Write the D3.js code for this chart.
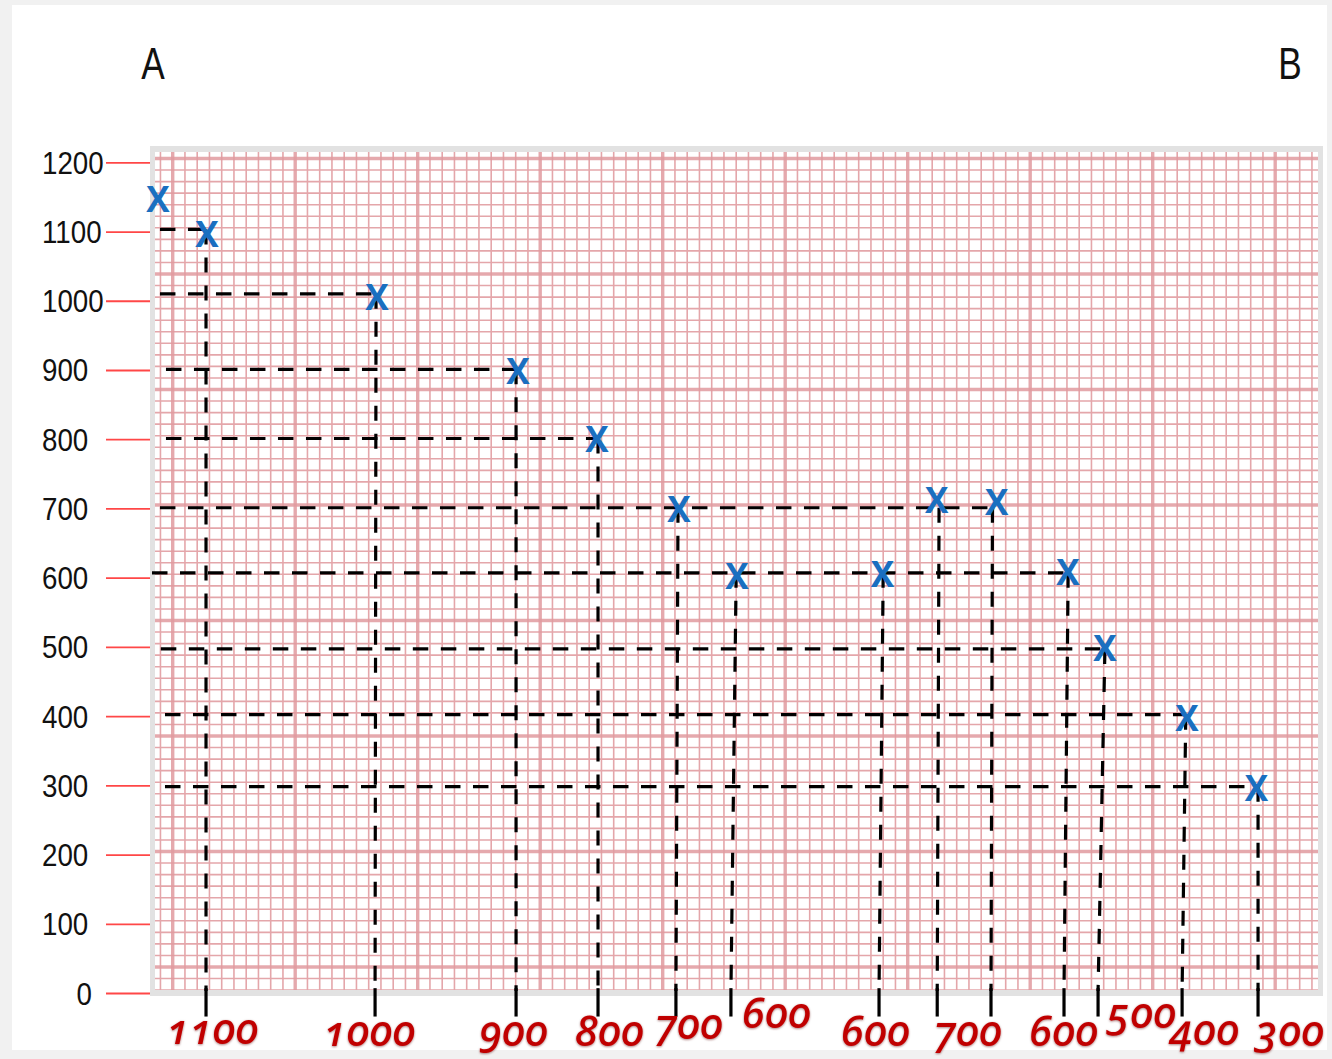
<!DOCTYPE html>
<html>
<head>
<meta charset="utf-8">
<script src="https://cdn.jsdelivr.net/npm/d3@7"></script>
<style>
  html, body { margin: 0; padding: 0; background: #f1f1f1; }
  svg { display: block; }
</style>
</head>
<body>
<svg id="chart" width="1332" height="1059"></svg>
<script>
// ---------------- data ----------------
const yTicks = [0, 100, 200, 300, 400, 500, 600, 700, 800, 900, 1000, 1100, 1200];
const cornerLabels = ["A", "B"];
const cornerX = [-1.6, 91.2];           // grid units
const cornerValue = [1320, 1320];        // value units (baseline)

// horizontal dashed guide levels
const levelValue  = [1103, 1010, 901, 801, 701, 607, 497, 402, 298];
const levelStartX = [-1.04, -1.04, -0.55, -0.55, -1.04, -1.69, -0.97, -0.63, -0.63];

// blue X markers
const markerX     = [-1.20, 2.80, 16.68, 28.19, 34.64, 41.33, 46.06, 57.94, 62.37, 67.27, 73.09, 76.11, 82.80, 88.47];
const markerValue = [1146, 1096, 1004, 898, 800, 698, 601, 604, 712, 708, 607, 498, 397, 295];
const markerLevel = [-1, 0, 1, 2, 3, 4, 5, 5, 4, 4, 5, 6, 7, 8];
const stemTopX    = [null, 2.72, 16.60, 28.03, 34.72, 41.25, 46.00, 58.00, 62.56, 66.92, 73.10, 76.10, 82.70, 88.60];
const stemBottomX = [null, 2.72, 16.52, 28.03, 34.72, 41.08, 45.57, 57.66, 62.41, 66.80, 72.76, 75.54, 82.40, 88.60];

// red handwritten-style labels below the chart
const labelText  = ["1100", "1000", "900", "800", "700", "600", "600", "700", "600", "500", "400", "300"];
const labelX     = [3.29, 16.11, 27.87, 35.70, 42.15, 49.33, 57.42, 64.93, 72.78, 79.14, 84.28, 91.22];
const labelValue = [-74, -77, -77, -77, -67, -50, -77, -76, -77, -50, -75, -77];

// ---------------- chart ----------------
const svg = d3.select("#chart");

// scales: x in graph-paper units (one unit = one small square), y in values
const x = d3.scaleLinear().domain([0, 90]).range([172.7, 1275.2]);
const y = d3.scaleLinear().domain([0, 1200]).range([993, 162.3]);
const gy = d3.scaleLinear().domain([0, 70]).range([158.5, 967]); // paper rows

const paper = { left: 155, right: 1318, top: 152, bottom: 990 };

// white card
svg.append("rect").attr("x", 12).attr("y", 5).attr("width", 1315).attr("height", 1045).attr("fill", "#ffffff");

// paper frame
svg.append("rect")
  .attr("x", paper.left - 5).attr("y", paper.top - 6)
  .attr("width", paper.right - paper.left + 10).attr("height", paper.bottom - paper.top + 12)
  .attr("fill", "#e2e2e2");
svg.append("rect")
  .attr("x", paper.left).attr("y", paper.top)
  .attr("width", paper.right - paper.left).attr("height", paper.bottom - paper.top)
  .attr("fill", "#ffffff");

const defs = svg.append("defs");
defs.append("clipPath").attr("id", "paperClip")
  .append("rect").attr("x", paper.left).attr("y", paper.top)
  .attr("width", paper.right - paper.left).attr("height", paper.bottom - paper.top);
const shadow = defs.append("filter").attr("id", "glow").attr("x", "-20%").attr("y", "-30%").attr("width", "140%").attr("height", "160%");
shadow.append("feDropShadow").attr("dx", 0).attr("dy", 0.8).attr("stdDeviation", 1.3)
  .attr("flood-color", "#5a0000").attr("flood-opacity", 0.55);

const grid = svg.append("g").attr("clip-path", "url(#paperClip)");
const colIdx = d3.range(-1, 94);
const rowIdx = d3.range(0, 73);

// minor lines
grid.selectAll("line.vmin").data(colIdx.filter(i => i % 10 !== 0)).join("line")
  .attr("x1", d => x(d)).attr("x2", d => x(d))
  .attr("y1", paper.top).attr("y2", paper.bottom)
  .attr("stroke", "#e4a6aa").attr("stroke-width", 1.6);
grid.selectAll("line.hmin").data(rowIdx.filter(i => i % 10 !== 0)).join("line")
  .attr("y1", d => gy(d)).attr("y2", d => gy(d))
  .attr("x1", paper.left).attr("x2", paper.right)
  .attr("stroke", "#e4a6aa").attr("stroke-width", 1.6);
// major lines
grid.selectAll("line.vmaj").data(colIdx.filter(i => i % 10 === 0)).join("line")
  .attr("x1", d => x(d)).attr("x2", d => x(d))
  .attr("y1", paper.top).attr("y2", paper.bottom)
  .attr("stroke", "#e19a9f").attr("stroke-width", 3.4).attr("stroke-opacity", 0.85);
grid.selectAll("line.hmaj").data(rowIdx.filter(i => i % 10 === 0)).join("line")
  .attr("y1", d => gy(d)).attr("y2", d => gy(d))
  .attr("x1", paper.left).attr("x2", paper.right)
  .attr("stroke", "#e19a9f").attr("stroke-width", 3.4).attr("stroke-opacity", 0.85);

// y axis (red tick marks)
const yAxis = d3.axisLeft(y).tickValues(yTicks).tickFormat(d3.format("d"))
  .tickSizeInner(44).tickSizeOuter(0).tickPadding(5);
const ax = svg.append("g").attr("transform", "translate(150,0)").call(yAxis);
ax.select(".domain").remove();
ax.selectAll(".tick line").attr("stroke", "#ff4747").attr("stroke-width", 1.8);
ax.selectAll(".tick text")
  .attr("x", null).attr("dy", null)
  .attr("text-anchor", d => d === 0 ? "end" : "start")
  .attr("transform", d => d === 0 ? "translate(-58,11) scale(0.88,1)" : "translate(-108,11) scale(0.88,1)")
  .attr("fill", "#111")
  .style("font-family", "'Liberation Sans', Arial, sans-serif")
  .style("font-size", "31.5px");

// corner letters
svg.selectAll("text.corner").data(cornerLabels).join("text")
  .attr("class", "corner")
  .attr("transform", (d, i) => `translate(${x(cornerX[i])},${y(cornerValue[i])}) scale(0.8,1)`)
  .attr("text-anchor", "middle")
  .attr("fill", "#111")
  .style("font-family", "'Liberation Sans', Arial, sans-serif")
  .style("font-size", "44px")
  .text(d => d);

// dashed guides
const guides = svg.append("g").attr("stroke", "#000").attr("stroke-width", 3.2).attr("fill", "none");
const levelEnd = levelValue.map((v, li) =>
  d3.max(markerLevel.map((l, mi) => l === li ? stemTopX[mi] : null).filter(d => d !== null)));

guides.selectAll("line.h").data(levelValue).join("line")
  .attr("x1", (d, i) => x(levelStartX[i]))
  .attr("x2", (d, i) => x(levelEnd[i]))
  .attr("y1", d => y(d)).attr("y2", d => y(d))
  .attr("stroke-dasharray", "15.5 12.5");

const stems = markerValue.map((v, i) => ({ i, level: markerLevel[i] })).filter(d => d.level >= 0);
const stemBase = 3;      // value where the paper ends
const stemFoot = -34;    // value where the solid foot ends
guides.selectAll("line.v").data(stems).join("line")
  .attr("x1", d => x(stemTopX[d.i]))
  .attr("y1", d => y(levelValue[d.level]))
  .attr("x2", d => x(stemBottomX[d.i]))
  .attr("y2", y(stemBase))
  .attr("stroke-dasharray", "15 13");
guides.selectAll("line.foot").data(stems).join("line")
  .attr("x1", d => x(stemBottomX[d.i])).attr("x2", d => x(stemBottomX[d.i]))
  .attr("y1", y(stemBase + 4)).attr("y2", y(stemFoot));

// blue X markers
svg.selectAll("text.mark").data(markerValue).join("text")
  .attr("class", "mark")
  .attr("x", (d, i) => x(markerX[i]))
  .attr("y", d => y(d) + 12.5)
  .attr("text-anchor", "middle")
  .attr("fill", "#1a6fc0")
  .style("font-family", "'Open Sans', 'Liberation Sans', sans-serif")
  .style("font-weight", "700")
  .style("font-size", "35px")
  .text("X");

// red labels
svg.selectAll("text.lab").data(labelText).join("text")
  .attr("class", "lab")
  .attr("x", (d, i) => x(labelX[i]))
  .attr("y", (d, i) => y(labelValue[i]))
  .attr("text-anchor", "middle")
  .attr("fill", "#c00000")
  .attr("filter", "url(#glow)")
  .style("font-family", "'Noto Sans', sans-serif")
  .style("font-style", "italic")
  .style("font-weight", "500")
  .style("font-size", "42px")
  .style("letter-spacing", "1px")
  .style("font-feature-settings", "'onum' 1")
  .text(d => d);
</script>
</body>
</html>
